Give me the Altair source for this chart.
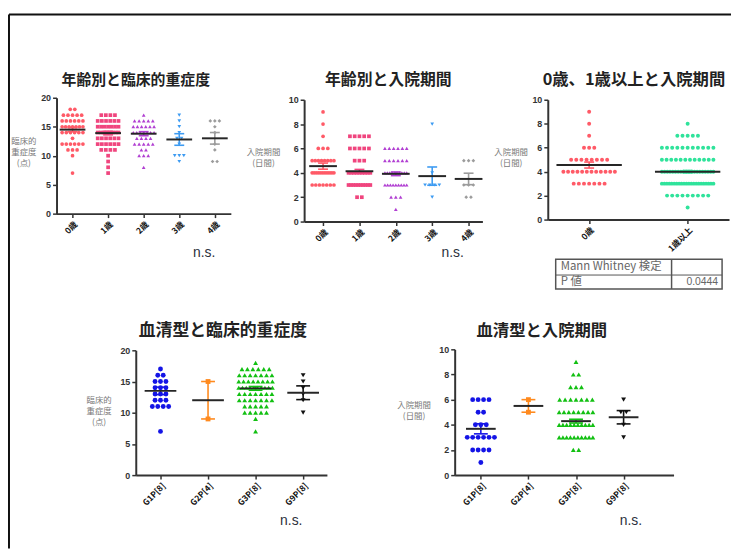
import altair as alt
import pandas as pd

JP = "Noto Sans CJK JP"
LAT = "Liberation Sans"

# ---------------- data (dot counts per integer level) -------------
sev_levels = [18, 17, 16, 15, 14, 13, 12, 11, 10, 9, 8, 7]
los_levels = [9, 8, 7, 6, 5, 4, 3, 2, 1]

age_groups = ["0歳", "1歳", "2歳", "3歳", "4歳"]
age_colors = ["#FF5A67", "#F0457E", "#B13FD2", "#3D9BF2", "#9C9C9C"]
age_shapes = ["circle", "square", "triangle-up", "triangle-down", "diamond"]

sev_age_counts = [
    [2, 5, 6, 7, 6, 1, 6, 3, 1, 0, 0, 1],
    [0, 4, 6, 7, 8, 6, 6, 4, 1, 1, 1, 1],
    [0, 1, 5, 6, 7, 4, 5, 2, 3, 0, 1, 0],
    [0, 1, 1, 1, 1, 2, 1, 0, 3, 1, 0, 0],
    [0, 0, 3, 1, 1, 0, 1, 1, 0, 2, 0, 0],
]
sev_age_mean = [14.5, 13.9, 13.8, 12.8, 13.0]
sev_age_sem = [0.35, 0.3, 0.35, 1.0, 1.0]

los_age_counts = [
    [1, 1, 1, 3, 8, 12, 7, 0, 0],
    [0, 0, 5, 5, 3, 9, 10, 2, 0],
    [0, 0, 0, 6, 6, 10, 9, 3, 1],
    [0, 1, 0, 0, 0, 1, 4, 1, 0],
    [0, 0, 0, 0, 3, 0, 3, 2, 0],
]
los_age_mean = [4.55, 4.13, 3.92, 3.73, 3.5]
los_age_sem = [0.25, 0.15, 0.15, 0.75, 0.47]

split_groups = ["0歳", "1歳以上"]
split_colors = ["#FF5A67", "#2FE39B"]
split_shapes = ["circle", "circle"]
los_split_counts = [
    [1, 1, 1, 3, 8, 12, 7, 0, 0],
    [0, 1, 5, 11, 12, 20, 22, 9, 1],
]
los_split_mean = [4.55, 4.0]
los_split_sem = [0.25, 0.1]

sero_groups = ["G1P[8]", "G2P[4]", "G3P[8]", "G9P[8]"]
sero_colors = ["#1414E6", "#FF8A1E", "#12C012", "#111111"]
sero_shapes = ["circle", "square", "triangle-up", "triangle-down"]
sev_sero_counts = [
    [0, 1, 2, 3, 3, 3, 3, 4, 0, 0, 0, 1],
    [0, 0, 0, 1, 0, 0, 0, 0, 0, 1, 0, 0],
    [1, 6, 7, 8, 10, 7, 7, 5, 5, 1, 0, 1],
    [0, 0, 1, 1, 1, 1, 1, 0, 1, 0, 0, 0],
]
sev_sero_mean = [13.5, 12.0, 13.9, 13.2]
sev_sero_sem = [0.6, 3.0, 0.3, 1.1]

los_sero_counts = [
    [0, 0, 0, 4, 2, 3, 6, 4, 1],
    [0, 0, 0, 1, 1, 0, 0, 0, 0],
    [1, 2, 3, 7, 8, 10, 10, 2, 0],
    [0, 0, 0, 1, 2, 1, 1, 0, 0],
]
los_sero_mean = [3.68, 5.5, 4.29, 4.6]
los_sero_sem = [0.4, 0.5, 0.15, 0.53]

titles = ["年齢別と臨床的重症度", "年齢別と入院期間", "0歳、1歳以上と入院期間",
          "血清型と臨床的重症度", "血清型と入院期間"]
sev_title = ["臨床的", "重症度", "(点)"]
los_title = ["入院期間", "(日間)"]
mw_label = "Mann Whitney 検定"
p_label = "P 値"
p_value = "0.0444"

W, H = 730, 543          # whole drawing (page offset 8 px)
one = pd.DataFrame({"k": [0]})


def P(v):  # page pixel -> chart pixel
    return v - 8


def panel(groups, colors, shapes, levels, counts, means, sems, ymax, ystep,
          L, R, T, B, xdom, sp_px, maxrow_px, mean_px, cap_px, dot_size):
    x0, x1, y0, y1 = P(L), P(R), P(B), P(T)
    step = (x1 - x0) / (xdom[1] - xdom[0])
    rows = []
    for gi, g in enumerate(groups):
        for lv, k in zip(levels, counts[gi]):
            if k == 0:
                continue
            sp = sp_px if k <= 1 else min(sp_px, maxrow_px / (k - 1))
            for j in range(k):
                rows.append({"group": g, "xpos": gi + (j - (k - 1) / 2) * sp / step, "value": lv})
    dots_df = pd.DataFrame(rows)
    st = pd.DataFrame({
        "group": groups,
        "idx": list(range(len(groups))),
        "mean": means,
        "lo": [m - s for m, s in zip(means, sems)],
        "hi": [m + s for m, s in zip(means, sems)],
    })
    st["ml"] = st["idx"] - mean_px / 2 / step
    st["mr"] = st["idx"] + mean_px / 2 / step
    st["cl"] = st["idx"] - cap_px / 2 / step
    st["cr"] = st["idx"] + cap_px / 2 / step

    label_expr = "[" + ",".join("'" + g + "'" for g in groups) + "][datum.value]"
    color = alt.Color("group:N", scale=alt.Scale(domain=groups, range=colors), legend=None)
    xenc = alt.X("xpos:Q", scale=alt.Scale(domain=xdom, range=[x0, x1], nice=False, zero=False),
                 axis=alt.Axis(orient="bottom", offset=y0 - H,
                               values=list(range(len(groups))), labelExpr=label_expr, title=None,
                               labelAngle=-45, labelAlign="right", labelBaseline="top",
                               labelFont=JP, labelFontSize=8.5, labelFontWeight="bold",
                               labelColor="#111", labelPadding=2, tickSize=4, labelOverlap=False))
    yenc = alt.Y("value:Q", scale=alt.Scale(domain=[0, ymax], range=[y0, y1], nice=False, zero=False),
                 axis=alt.Axis(orient="left", offset=-x0,
                               values=list(range(0, ymax + 1, ystep)), title=None,
                               labelFont=LAT, labelFontSize=9, labelFontWeight="bold",
                               labelColor="#333", tickSize=4, labelOverlap=False))
    dots = alt.Chart(dots_df).mark_point(filled=True, size=dot_size, opacity=1).encode(
        x=xenc, y=yenc, color=color,
        shape=alt.Shape("group:N", scale=alt.Scale(domain=groups, range=shapes), legend=None))
    err = alt.Chart(st).mark_rule(strokeWidth=1.6).encode(
        x="idx:Q", y="lo:Q", y2="hi:Q", color=color)
    cap_lo = alt.Chart(st).mark_rule(strokeWidth=1.6).encode(
        x="cl:Q", x2="cr:Q", y="lo:Q", color=color)
    cap_hi = alt.Chart(st).mark_rule(strokeWidth=1.6).encode(
        x="cl:Q", x2="cr:Q", y="hi:Q", color=color)
    mean_line = alt.Chart(st).mark_rule(strokeWidth=2, color="#262626").encode(
        x="ml:Q", x2="mr:Q", y="mean:Q")
    return alt.layer(dots, err, cap_lo, cap_hi, mean_line)


def text_at(txt, x, y, size, font=JP, weight="normal", color="#222", align="center",
            baseline="middle", line_height=None):
    kw = dict(text=txt, font=font, fontSize=size, fontWeight=weight, color=color,
              align=align, baseline=baseline)
    if line_height:
        kw["lineHeight"] = line_height
    return alt.Chart(one).mark_text(**kw).encode(x=alt.value(P(x)), y=alt.value(P(y)))


def rule_at(x, y, x2=None, y2=None, color="#111", width=2):
    enc = dict(x=alt.value(P(x)), y=alt.value(P(y)))
    if x2 is not None:
        enc["x2"] = alt.value(P(x2))
    if y2 is not None:
        enc["y2"] = alt.value(P(y2))
    return alt.Chart(one).mark_rule(color=color, strokeWidth=width).encode(**enc)


p1 = panel(age_groups, age_colors, age_shapes, sev_levels, sev_age_counts, sev_age_mean,
           sev_age_sem, 20, 5, 57, 233, 96, 213, [-0.45, 4.45], 4.6, 21, 26, 10, 14)
p2 = panel(age_groups, age_colors, age_shapes, los_levels, los_age_counts, los_age_mean,
           los_age_sem, 10, 2, 307, 487, 98, 221, [-0.52, 4.38], 4.8, 22, 28, 10, 14)
p3 = panel(split_groups, split_colors, split_shapes, los_levels, los_split_counts,
           los_split_mean, los_split_sem, 10, 2, 553, 736, 98, 219, [-0.42, 1.42], 5.2, 52, 66,
           10, 16)
p4 = panel(sero_groups, sero_colors, sero_shapes, sev_levels, sev_sero_counts,
           sev_sero_mean, sev_sero_sem, 20, 5, 137, 330, 351, 477, [-0.52, 3.5], 5.5, 34, 32,
           14, 24)
p5 = panel(sero_groups, sero_colors, sero_shapes, los_levels, los_sero_counts,
           los_sero_mean, los_sero_sem, 10, 2, 459, 680, 350, 477, [-0.55, 4.05], 5.5, 34, 30,
           14, 24)

notes = [
    # outer frame
    rule_at(9, 12, x2=739),
    rule_at(9, 12, y2=551),
    # panel titles
    text_at(titles[0], 137, 78, 15, weight="bold"),
    text_at(titles[1], 392, 78, 16, weight="bold"),
    text_at(titles[2], 640, 78, 16.5, weight="bold"),
    text_at(titles[3], 225, 332, 17, weight="bold"),
    text_at(titles[4], 547, 332, 16.5, weight="bold"),
    # y-axis titles
    text_at(sev_title, 24, 136, 8.5, color="#7a7a7a", baseline="top", line_height=11),
    text_at(los_title, 266, 147, 8.5, color="#7a7a7a", baseline="top", line_height=11),
    text_at(los_title, 516, 147, 8.5, color="#7a7a7a", baseline="top", line_height=11),
    text_at(sev_title, 100, 397, 8.5, color="#7a7a7a", baseline="top", line_height=11),
    text_at(los_title, 418, 402, 8.5, color="#7a7a7a", baseline="top", line_height=11),
    # n.s.
    text_at("n.s.", 206, 253, 14, font=LAT, color="#2b303c"),
    text_at("n.s.", 457, 253, 14, font=LAT, color="#2b303c"),
    text_at("n.s.", 294, 523, 14, font=LAT, color="#2b303c"),
    text_at("n.s.", 637, 523, 14, font=LAT, color="#2b303c"),
    # Mann Whitney table
    alt.Chart(one).mark_rect(fill="white", stroke="#555", strokeWidth=1.5).encode(
        x=alt.value(P(561)), x2=alt.value(P(729)), y=alt.value(P(259)), y2=alt.value(P(289))),
    rule_at(561, 275, x2=729, color="#555", width=1),
    rule_at(678, 259, y2=289, color="#555", width=1.5),
    text_at(mw_label, 566, 267, 11.5, color="#666", align="left"),
    text_at(p_label, 566, 282, 11.5, color="#666", align="left"),
    text_at(p_value, 725, 282, 10.5, font=LAT, color="#666", align="right"),
]

chart = alt.layer(p1, p2, p3, p4, p5, *notes).resolve_scale(
    x="independent", y="independent", color="independent", shape="independent"
).resolve_axis(x="independent", y="independent").properties(
    width=W, height=H, padding=0, autosize=alt.AutoSizeParams(type="none")
).configure_view(stroke=None).configure_axis(
    grid=False, domainColor="#333", domainWidth=2, tickColor="#333", tickWidth=1.5
)

chart.save("out.html", embed_options={"renderer": "svg", "actions": False})
